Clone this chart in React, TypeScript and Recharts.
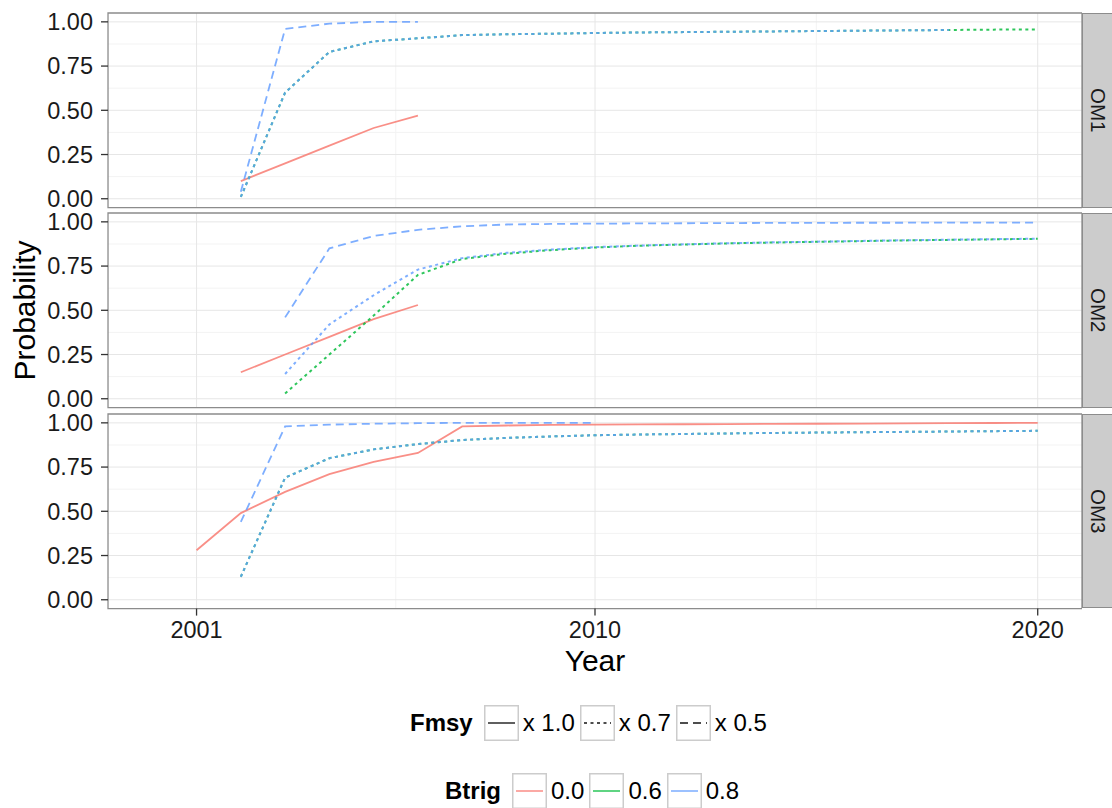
import { CartesianGrid, Line, LineChart, ReferenceArea, XAxis, YAxis } from 'recharts'

const years = [
	2001, 2002, 2003, 2004, 2005, 2006, 2007, 2008, 2009, 2010, 2011, 2012, 2013, 2014, 2015, 2016,
	2017, 2018, 2019, 2020,
]
const xTicks = [2001, 2010, 2020]
const xMinor = [2005.5, 2015]
const yTicks = [0, 0.25, 0.5, 0.75, 1]
const yMinor = [0.125, 0.375, 0.625, 0.875]

const panelNames = ['OM1', 'OM2', 'OM3']
const fmsyLabels = ['x 1.0', 'x 0.7', 'x 0.5']
const btrigLabels = ['0.0', '0.6', '0.8']
const btrigColors = ['#F8766D', '#00BA38', '#619CFF']
const fmsyDash = ['', '3 3.5', '8 5']

// OM1
const om1Red = [0.1, 0.2, 0.3, 0.4, 0.47] // Btrig 0.0, x 1.0, from 2002
const om1BlueDash = [0.04, 0.96, 0.99, 1.0, 1.0] // Btrig 0.8, x 0.5, from 2002
const om1GreenDot = [
	0.01, 0.6, 0.83, 0.89, 0.907, 0.925, 0.93, 0.933, 0.937, 0.94, 0.942, 0.944, 0.946, 0.948, 0.95,
	0.952, 0.954, 0.956, 0.957,
] // from 2002
const om1BlueDot = [
	0.01, 0.6, 0.83, 0.89, 0.907, 0.925, 0.93, 0.933, 0.937, 0.94, 0.942, 0.944, 0.946, 0.948, 0.95,
	0.952, 0.954,
] // from 2002

// OM2
const om2Red = [0.15, 0.25, 0.35, 0.45, 0.53] // from 2002
const om2BlueDash = [
	0.46, 0.85, 0.92, 0.955, 0.975, 0.985, 0.988, 0.99, 0.991, 0.992, 0.993, 0.994, 0.994, 0.995,
	0.995, 0.996, 0.996, 0.996,
] // from 2003
const om2GreenDot = [
	0.03, 0.25, 0.47, 0.7, 0.79, 0.82, 0.84, 0.855, 0.865, 0.872, 0.878, 0.883, 0.887, 0.891, 0.895,
	0.898, 0.901, 0.904,
] // from 2003
const om2BlueDot = [
	0.14, 0.42, 0.585, 0.73, 0.795, 0.825, 0.843, 0.857, 0.866, 0.873, 0.879, 0.884, 0.888, 0.892,
	0.896, 0.899, 0.902, 0.905,
] // from 2003

// OM3
const om3Red = [
	0.28, 0.49, 0.61, 0.71, 0.78, 0.83, 0.98, 0.985, 0.988, 0.99, 0.991, 0.992, 0.993, 0.994, 0.995,
	0.996, 0.997, 0.998, 0.999, 1.0,
] // from 2001
const om3BlueDash = [0.44, 0.98, 0.99, 0.995, 0.998, 1.0, 1.0, 1.0, 1.0] // from 2002
const om3GreenDot = [
	0.13, 0.69, 0.8, 0.85, 0.88, 0.903, 0.915, 0.923, 0.93, 0.934, 0.937, 0.94, 0.943, 0.945, 0.947,
	0.949, 0.951, 0.953, 0.955,
] // from 2002
const om3BlueDot = [
	0.13, 0.69, 0.8, 0.85, 0.88, 0.903, 0.915, 0.923, 0.93, 0.934, 0.937, 0.94, 0.943, 0.945, 0.947,
	0.949, 0.951, 0.953, 0.955,
] // from 2002

type Series = { btrig: number; fmsy: number; start: number; values: number[] }

// btrig / fmsy are indexes into the label arrays
const panelSeries: Series[][] = [
	[
		{ btrig: 0, fmsy: 0, start: 2002, values: om1Red },
		{ btrig: 1, fmsy: 1, start: 2002, values: om1GreenDot },
		{ btrig: 2, fmsy: 1, start: 2002, values: om1BlueDot },
		{ btrig: 2, fmsy: 2, start: 2002, values: om1BlueDash },
	],
	[
		{ btrig: 0, fmsy: 0, start: 2002, values: om2Red },
		{ btrig: 1, fmsy: 1, start: 2003, values: om2GreenDot },
		{ btrig: 2, fmsy: 1, start: 2003, values: om2BlueDot },
		{ btrig: 2, fmsy: 2, start: 2003, values: om2BlueDash },
	],
	[
		{ btrig: 0, fmsy: 0, start: 2001, values: om3Red },
		{ btrig: 1, fmsy: 1, start: 2002, values: om3GreenDot },
		{ btrig: 2, fmsy: 1, start: 2002, values: om3BlueDot },
		{ btrig: 2, fmsy: 2, start: 2002, values: om3BlueDash },
	],
]

const toRows = (s: Series) => {
	const i0 = years.indexOf(s.start)
	return s.values.map((p, i) => ({ year: years[i0 + i], p }))
}

const FONT = '"Liberation Sans", Arial, Helvetica, sans-serif'
const panelTops = [13.2, 213.4, 413.8]
const panelH = 194.6
const plotRight = 1082
const axisW = 108
const xAxisH = 72
const pad = 13 // room above/below the panel so tick labels are not clipped
const border = '#8C8C8C'

function Panel({ idx }: { idx: number }) {
	const last = idx === panelNames.length - 1
	return (
		<div style={{ position: 'absolute', left: 0, top: panelTops[idx] - pad }}>
			<LineChart
				width={plotRight}
				height={pad + panelH + (last ? xAxisH : pad)}
				margin={{ top: pad, right: 0, bottom: last ? 0 : pad, left: 0 }}
			>
				<CartesianGrid horizontalValues={yMinor} verticalValues={xMinor} stroke="#F3F3F3" strokeWidth={1} />
				<CartesianGrid horizontalValues={yTicks} verticalValues={xTicks} stroke="#E6E6E6" strokeWidth={1} />
				<XAxis
					type="number"
					dataKey="year"
					domain={[1999, 2021]}
					ticks={xTicks}
					interval={0}
					hide={!last}
					height={xAxisH}
					axisLine={false}
					tickLine={{ stroke: '#333', strokeWidth: 1.3 }}
					tickSize={7}
					tickMargin={6}
					tick={{ fill: '#1A1A1A', fontSize: 23.5, fontFamily: FONT }}
					label={{
						value: 'Year',
						position: 'insideBottom',
						offset: 10,
						fill: '#000',
						fontSize: 30,
						fontFamily: FONT,
					}}
				/>
				<YAxis
					type="number"
					domain={[-0.05, 1.05]}
					ticks={yTicks}
					interval={0}
					width={axisW}
					axisLine={false}
					tickLine={{ stroke: '#333', strokeWidth: 1.3 }}
					tickSize={7}
					tickMargin={8}
					tickFormatter={(v: number) => v.toFixed(2)}
					tick={{ fill: '#1A1A1A', fontSize: 23.5, fontFamily: FONT }}
				/>
				<ReferenceArea x1={1999} x2={2021} y1={-0.05} y2={1.05} fill="none" stroke={border} strokeWidth={1.3} />
				{panelSeries[idx].map((s, k) => (
					<Line
						key={k}
						data={toRows(s)}
						dataKey="p"
						name={`${btrigLabels[s.btrig]} ${fmsyLabels[s.fmsy]}`}
						type="linear"
						stroke={btrigColors[s.btrig]}
						strokeOpacity={0.82}
						strokeWidth={s.fmsy === 1 ? 2 : 1.8}
						strokeDasharray={fmsyDash[s.fmsy]}
						dot={false}
						activeDot={false}
						isAnimationActive={false}
					/>
				))}
			</LineChart>
			<div
				style={{
					position: 'absolute',
					left: plotRight,
					top: pad,
					width: 1112 - plotRight,
					height: panelH,
					boxSizing: 'border-box',
					background: '#CCCCCC',
					borderTop: `1.3px solid ${border}`,
					borderBottom: `1.3px solid ${border}`,
					borderLeft: `1.3px solid ${border}`,
					display: 'flex',
					alignItems: 'center',
					justifyContent: 'center',
				}}
			>
				<span
					style={{
						writingMode: 'vertical-rl',
						fontFamily: FONT,
						fontSize: 20.5,
						color: '#1A1A1A',
					}}
				>
					{panelNames[idx]}
				</span>
			</div>
		</div>
	)
}

function LegendRow({
	title,
	left,
	top,
	labels,
	keyLine,
}: {
	title: string
	left: number
	top: number
	labels: string[]
	keyLine: (i: number) => { stroke: string; dash: string; opacity: number }
}) {
	return (
		<div
			style={{
				position: 'absolute',
				left,
				top,
				height: 36,
				display: 'flex',
				alignItems: 'center',
				fontFamily: FONT,
				fontSize: 24,
				color: '#000',
				whiteSpace: 'nowrap',
			}}
		>
			<span style={{ fontWeight: 'bold', marginRight: 11 }}>{title}</span>
			{labels.map((lab, i) => {
				const k = keyLine(i)
				return (
					<div key={lab} style={{ display: 'flex', alignItems: 'center', marginLeft: i ? 5 : 0 }}>
						<svg width={35} height={36} style={{ display: 'block' }}>
							<rect x={0.75} y={0.75} width={33.5} height={34.5} fill="#fff" stroke="#CCCCCC" strokeWidth={1.5} />
							<line
								x1={4}
								x2={31}
								y1={18}
								y2={18}
								stroke={k.stroke}
								strokeOpacity={k.opacity}
								strokeWidth={1.8}
								strokeDasharray={k.dash}
							/>
						</svg>
						<span style={{ marginLeft: 4 }}>{lab}</span>
					</div>
				)
			})}
		</div>
	)
}

export default function App() {
	return (
		<div
			style={{
				position: 'absolute',
				left: 0,
				top: 0,
				width: 1112,
				height: 808,
				overflow: 'hidden',
				background: '#fff',
			}}
		>
			{panelNames.map((_, i) => (
				<Panel key={i} idx={i} />
			))}
			<svg width={60} height={808} style={{ position: 'absolute', left: 0, top: 0 }}>
				<text
					x={35}
					y={310.5}
					transform="rotate(-90 35 310.5)"
					textAnchor="middle"
					fontFamily={FONT}
					fontSize={30}
					fill="#000"
				>
					Probability
				</text>
			</svg>
			<LegendRow
				title="Fmsy"
				left={410}
				top={705}
				labels={fmsyLabels}
				keyLine={(i) => ({ stroke: '#4D4D4D', dash: fmsyDash[i], opacity: 1 })}
			/>
			<LegendRow
				title="Btrig"
				left={445}
				top={773}
				labels={btrigLabels}
				keyLine={(i) => ({ stroke: btrigColors[i], dash: '', opacity: 0.7 })}
			/>
		</div>
	)
}
